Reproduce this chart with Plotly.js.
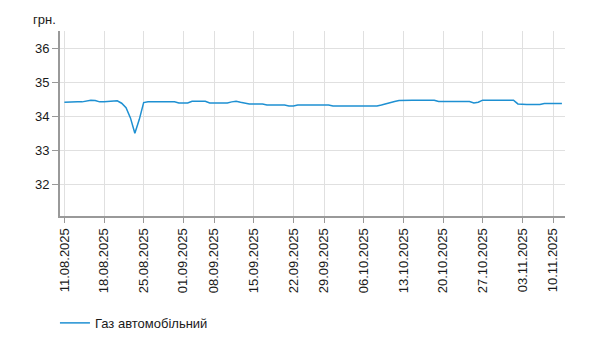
<!DOCTYPE html>
<html>
<head>
<meta charset="utf-8">
<script src="https://cdn.plot.ly/plotly-3.0.1.min.js"></script>
<style>html,body{margin:0;padding:0;background:#fff;}#chart{width:594px;height:350px;}</style>
</head>
<body>
<div id="chart"></div>
<script>
// Point index of each labeled date along the category sequence
const tickLabels = ["11.08.2025","18.08.2025","25.08.2025","01.09.2025","08.09.2025","15.09.2025","22.09.2025","29.09.2025","06.10.2025","13.10.2025","20.10.2025","27.10.2025","03.11.2025","10.11.2025"];
const tickIndex = [0, 9, 18, 27, 34, 43, 52, 59, 68, 77, 86, 95, 104, 111];

// Gas (autogas) price, UAH, one value per point
const gasValues = [
  34.41, 34.42, 34.42, 34.42, 34.42, 34.44, 34.47, 34.46, 34.42, 34.42,
  34.43, 34.46, 34.45, 34.38, 34.25, 33.95, 33.50, 33.90, 34.40, 34.42,
  34.42, 34.42, 34.42, 34.42, 34.42, 34.42, 34.39, 34.39, 34.39, 34.44,
  34.44, 34.44, 34.44, 34.39, 34.39, 34.39, 34.39, 34.39, 34.42, 34.44,
  34.41, 34.38, 34.36, 34.36, 34.36, 34.36, 34.33, 34.33, 34.33, 34.33,
  34.33, 34.30, 34.30, 34.33, 34.33, 34.33, 34.33, 34.33, 34.33, 34.33,
  34.33, 34.30, 34.30, 34.30, 34.30, 34.30, 34.30, 34.30, 34.30, 34.30,
  34.30, 34.30, 34.33, 34.37, 34.40, 34.43, 34.46, 34.47, 34.47, 34.47,
  34.47, 34.47, 34.47, 34.47, 34.47, 34.43, 34.43, 34.43, 34.43, 34.43,
  34.43, 34.43, 34.43, 34.39, 34.41, 34.47, 34.47, 34.47, 34.47, 34.47,
  34.47, 34.47, 34.47, 34.36, 34.34, 34.34, 34.34, 34.34, 34.34, 34.37,
  34.37, 34.37, 34.37, 34.37
];
const pointIndex = gasValues.map((v, i) => i);
const seriesName = "Газ автомобільний";
const yTicks = [32, 33, 34, 35, 36];

const font = {family: "Liberation Sans, Arial, sans-serif", size: 13, color: "#1a1a1a"};

Plotly.newPlot("chart", [{
  type: "scatter",
  mode: "lines",
  x: pointIndex,
  y: gasValues,
  name: seriesName,
  line: {color: "rgb(30,144,210)", width: 1.5},
  hoverinfo: "skip"
}], {
  width: 594,
  height: 350,
  margin: {l: 60, r: 29, t: 31, b: 134},
  paper_bgcolor: "#fff",
  plot_bgcolor: "#fff",
  font: font,
  showlegend: true,
  legend: {
    orientation: "h",
    x: -0.01, xanchor: "left",
    y: -0.578, yanchor: "middle",
    font: font,
    bgcolor: "rgba(0,0,0,0)"
  },
  xaxis: {
    range: [-1, 113.7],
    tickmode: "array",
    tickvals: tickIndex,
    ticktext: tickLabels,
    tickangle: -90,
    ticks: "outside",
    ticklen: 5,
    tickcolor: "#999",
    showgrid: true,
    gridcolor: "#e0e0e0",
    gridwidth: 1,
    showline: true,
    linecolor: "#999",
    linewidth: 2,
    zeroline: false,
    tickfont: font,
    fixedrange: true
  },
  yaxis: {
    range: [31.07, 36.5],
    tickmode: "array",
    tickvals: yTicks,
    ticks: "outside",
    ticklen: 6,
    tickcolor: "#999",
    showgrid: true,
    gridcolor: "#e0e0e0",
    gridwidth: 1,
    showline: true,
    linecolor: "#999",
    linewidth: 2,
    zeroline: false,
    tickfont: font,
    fixedrange: true
  },
  annotations: [{
    text: "грн.",
    xref: "paper", yref: "paper",
    x: 0, y: 1,
    xanchor: "right", yanchor: "bottom",
    xshift: -2, yshift: 2,
    showarrow: false,
    font: font
  }]
}, {staticPlot: true, displayModeBar: false});
</script>
</body>
</html>
